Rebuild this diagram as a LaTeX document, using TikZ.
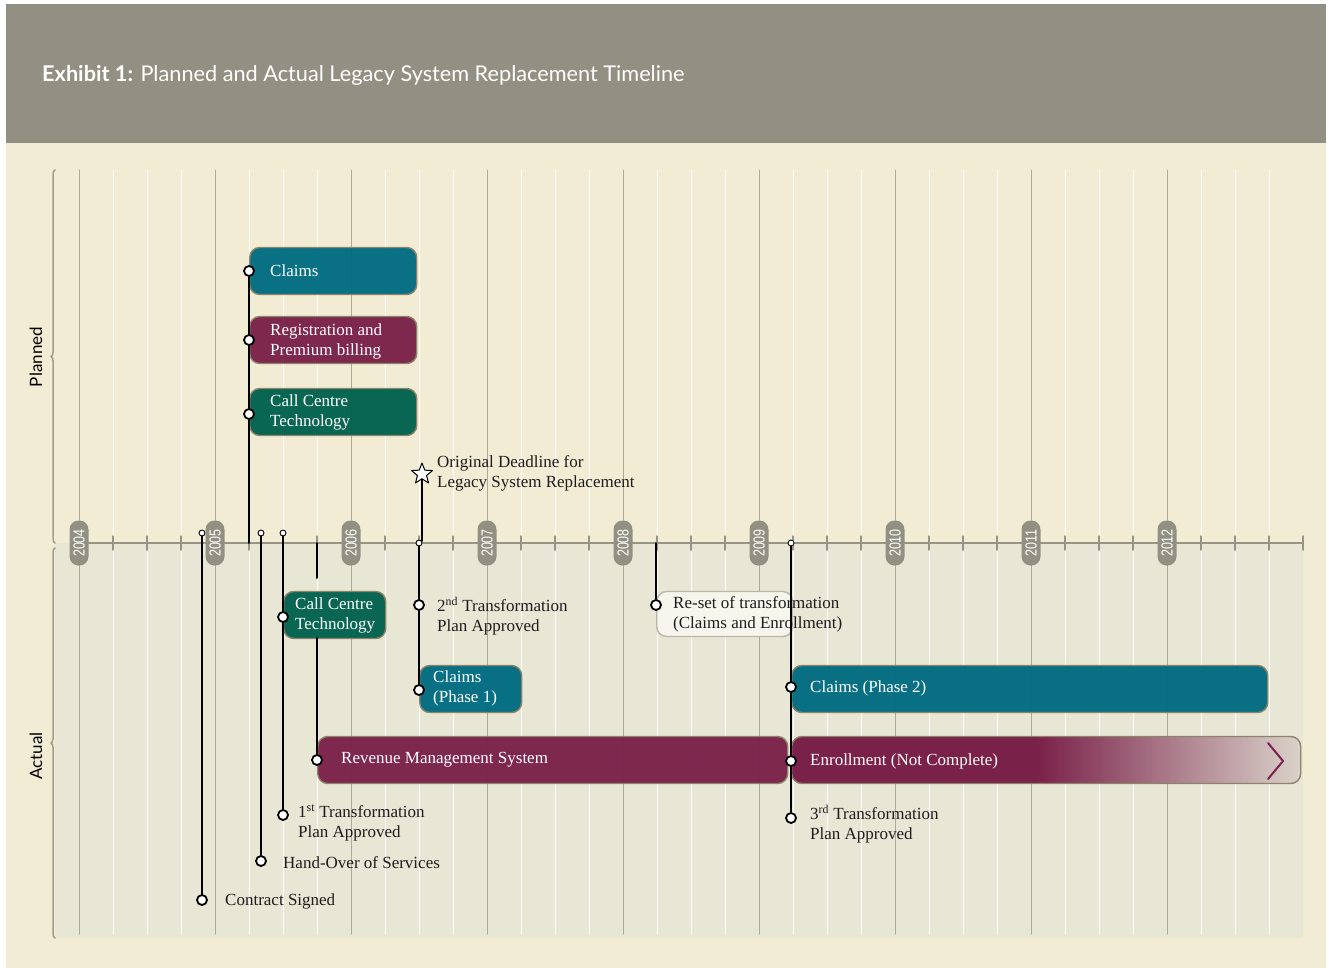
\documentclass[tikz,border=0pt]{standalone}
\usepackage{fontspec}
\setmainfont{Liberation Serif}
\newfontfamily\headfont{Lato}
\newfontfamily\yearfont[FakeStretch=0.78]{Liberation Sans}
\usepackage{tikz}
\usetikzlibrary{shapes.geometric,decorations.pathreplacing}

\definecolor{hdr}{RGB}{146,144,130}
\definecolor{cream}{RGB}{242,236,213}
\definecolor{actualbg}{RGB}{232,230,212}
\definecolor{majline}{RGB}{172,169,152}
\definecolor{axisgray}{RGB}{150,148,132}
\definecolor{edge}{RGB}{140,132,104}
\definecolor{claimblue}{RGB}{0,108,128}
\definecolor{plum}{RGB}{122,33,73}
\definecolor{pine}{RGB}{0,97,78}
\definecolor{resetfill}{RGB}{247,246,238}
\definecolor{resetedge}{RGB}{185,182,165}
\definecolor{fadeend}{RGB}{218,210,202}
\definecolor{ink}{RGB}{30,28,28}
\definecolor{bracegray}{RGB}{160,158,140}

\pgfdeclarehorizontalshading{enrollfade}{100bp}{color(0bp)=(plum); color(25bp)=(plum); color(49bp)=(plum); color(75bp)=(fadeend); color(100bp)=(fadeend)}

\begin{document}
\begin{tikzpicture}[x=1pt,y=-1pt,line cap=round,line join=round,
  stem/.style={line width=2pt,black},
  dot/.style={circle,draw=black,fill=white,line width=1.8pt,inner sep=0pt,minimum size=10pt},
  axdot/.style={circle,draw=black,fill=white,line width=0.9pt,inner sep=0pt,minimum size=6pt},
  bar/.style={rounded corners=10pt,draw=edge,line width=1.4pt,minimum height=47pt,anchor=west,inner sep=0pt,fill=#1,fill opacity=.96},
  intxt/.style={anchor=west,text=white,align=left,inner sep=0pt,font=\fontsize{17}{20}\selectfont},
  lbl/.style={anchor=west,text=ink,align=left,inner sep=0pt,font=\fontsize{17}{20}\selectfont},
  pill/.style={rounded corners=9pt,fill=hdr,text=white,minimum width=45pt,minimum height=19pt,inner sep=0pt,rotate=90,font=\yearfont\fontsize{16}{16}\selectfont},
  sidebrace/.style={draw=bracegray,line width=1.5pt,decorate,decoration={brace,amplitude=4pt}},
  side/.style={rotate=90,text=black,font=\headfont\fontsize{17}{17}\selectfont}]
\useasboundingbox (0,0) rectangle (1329,968);
\fill[white] (0,0) rectangle (1329,968);
% backgrounds
\fill[hdr] (6,4) rectangle (1326,143);
\fill[cream] (6,143) rectangle (1326,968);
\fill[actualbg] (55,543) rectangle (1303,938);
\node[anchor=base west,text=white,inner sep=0pt,font=\headfont\fontsize{21.7}{24}\selectfont] (title) at (42,82)
  {\textbf{Exhibit 1:} Planned and Actual Legacy System Replacement Timeline};

% grid
\foreach \i in {1,...,35}
  \draw[white,line width=1pt] (79+34*\i,170) -- (79+34*\i,934);
\foreach \k in {0,...,8}
  \draw[majline,line width=1pt] (79+136*\k,170) -- (79+136*\k,934);

% axis
\draw[axisgray,line width=2pt] (79,543) -- (1303,543);
\foreach \i in {1,...,36}
  \draw[axisgray,line width=1.5pt] (79+34*\i,536) -- (79+34*\i,550);
\foreach \yr [count=\k from 0] in {2004,...,2012}
  \node[pill] (y\yr) at (79+136*\k,543) {\yr};

% braces
\draw[sidebrace] (55,543) -- (55,170);
\draw[sidebrace] (55,938) -- (55,548);
\node[side] (planned) at (36,357) {Planned};
\node[side] (actual) at (36,756) {Actual};

% planned
\coordinate (p0) at (249,543);
\node[bar=claimblue,minimum width=167pt] (pclaims) at (249,271) {};
\node[bar=plum,minimum width=167pt] (preg) at (249,340) {};
\node[bar=pine,minimum width=167pt] (pcct) at (249,412) {};
\node[intxt] (pclaimsT) at (270,271) {Claims};
\node[intxt] (pregT) at (270,341) {Registration and\\Premium billing};
\node[intxt] (pcctT) at (270,412) {Call Centre\\Technology};
\node[dot] (pd1) at (249,271) {};
\node[dot] (pd2) at (249,340) {};
\node[dot] (pd3) at (249,414) {};
\draw[stem] (p0) -- (pd3);
\draw[stem] (pd3) -- (pd2);
\draw[stem] (pd2) -- (pd1);

\coordinate (dead0) at (422,541);
\node[star,star points=5,star point ratio=2.3,draw=black,fill=white,line width=1pt,minimum size=22pt,inner sep=0pt] (dead) at (422,474) {};
\draw[stem] (dead0) -- (dead.south);
\node[lbl] (deadT) at (437,473) {Original Deadline for\\Legacy System Replacement};

% actual
\node[bar=pine,minimum width=102pt] (acct) at (283,615) {};
\node[bar=claimblue,minimum width=102pt] (aclaims1) at (419,689) {};
\node[bar=plum,minimum width=470pt] (arms) at (317,760) {};
\node[anchor=west,rounded corners=10pt,draw=resetedge,line width=1.4pt,fill=resetfill,minimum width=136pt,minimum height=45pt,inner sep=0pt] (areset) at (656,614) {};
\node[bar=claimblue,minimum width=476pt] (aclaims2) at (791,689) {};
\node[anchor=west,rounded corners=10pt,draw=edge,line width=1.4pt,shading=enrollfade,minimum width=509pt,minimum height=47pt,inner sep=0pt] (aenroll) at (791,760) {};
\draw[plum,line width=2pt] (1268,743) -- (1283,761) -- (1268,779);

\node[intxt] (acctT) at (295,615) {Call Centre\\Technology};
\node[intxt] (aclaims1T) at (433,688) {Claims\\(Phase 1)};
\node[intxt] (armsT) at (341,760) {Revenue Management System};
\node[intxt] (aclaims2T) at (810,688) {Claims (Phase 2)};
\node[intxt] (aenrollT) at (810,761) {Enrollment (Not Complete)};
\node[lbl] (aresetT) at (673,614) {Re-set of transformation\\(Claims and Enrollment)};
\node[lbl] (tp2T) at (437,616) {2\textsuperscript{nd} Transformation\\Plan Approved};
\node[lbl] (tp1T) at (298,823) {1\textsuperscript{st} Transformation\\Plan Approved};
\node[lbl] (tp3T) at (810,824) {3\textsuperscript{rd} Transformation\\Plan Approved};
\node[lbl] (handT) at (283,863) {Hand-Over of Services};
\node[lbl] (contT) at (225,901) {Contract Signed};

\node[axdot] (a1) at (202,533) {};
\node[axdot] (a2) at (261,533) {};
\node[axdot] (a3) at (283,533) {};
\coordinate (a4) at (317,543);
\coordinate (a4b) at (317,578);
\coordinate (a4c) at (317,638);
\node[axdot] (a5) at (419,543) {};
\coordinate (a6) at (656,543);
\node[axdot] (a7) at (791,543) {};

\node[dot] (c1) at (202,900) {};
\node[dot] (c2) at (261,861) {};
\node[dot] (c3a) at (283,617) {};
\node[dot] (c3b) at (283,815) {};
\node[dot] (c4) at (317,760) {};
\node[dot] (c5a) at (419,605) {};
\node[dot] (c5b) at (419,690) {};
\node[dot] (c6) at (656,605) {};
\node[dot] (c7a) at (791,687) {};
\node[dot] (c7b) at (791,761) {};
\node[dot] (c7c) at (791,818) {};

\draw[stem] (a1) -- (c1);
\draw[stem] (a2) -- (c2);
\draw[stem] (a3) -- (c3a);
\draw[stem] (c3a) -- (c3b);
\draw[stem] (a4) -- (a4b);
\draw[stem] (a4c) -- (c4);
\draw[stem] (a5) -- (c5a);
\draw[stem] (c5a) -- (c5b);
\draw[stem] (a6) -- (c6);
\draw[stem] (a7) -- (c7a);
\draw[stem] (c7a) -- (c7b);
\draw[stem] (c7b) -- (c7c);
\end{tikzpicture}
\end{document}
